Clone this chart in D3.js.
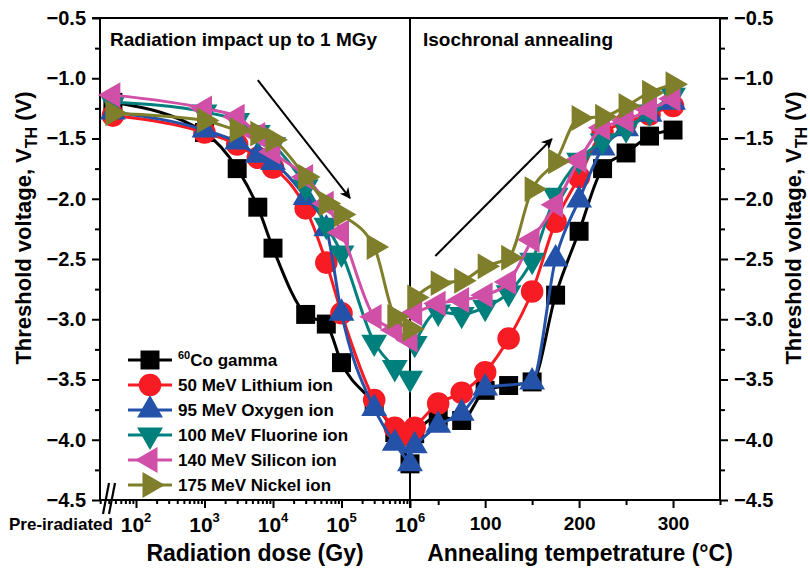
<!DOCTYPE html>
<html><head><meta charset="utf-8">
<script src="https://cdn.jsdelivr.net/npm/d3@7"></script>
<style>body{margin:0;background:#fff}svg{display:block}</style>
</head><body>
<svg id="c" width="810" height="573"></svg>
<script>
// ---------------- data ----------------
const PRE_DOSE = 46; // plotting position of the "Pre-iradiated" category on the log axis
const irrDoses = [PRE_DOSE, 1e3, 3e3, 6e3, 1e4, 3e4, 6e4, 1e5, 3e5, 6e5, 1e6];
const annTemps = [25, 50, 75, 100, 125, 150, 175, 200, 225, 250, 275, 300];

const seriesNames = ["Co gamma", "50 MeV Lithium ion", "95 MeV Oxygen ion", "100 MeV Fluorine ion", "140 MeV Silicon ion", "175 MeV Nickel ion"];
const seriesColors = ["#000000", "#f71c24", "#2452a8", "#00807c", "#cf50a6", "#7f7f2b"];
const seriesSymbols = ["square", "circle", "up", "down", "left", "right"];

const irrCo = [-1.20, -1.45, -1.75, -2.07, -2.41, -2.96, -3.04, -3.36, -3.70, -3.94, -4.20];
const irrLi = [-1.31, -1.45, -1.55, -1.66, -1.74, -2.08, -2.53, -2.95, -3.67, -3.90, -3.97];
const irrO  = [-1.28, -1.43, -1.53, -1.64, -1.70, -1.99, -2.25, -2.95, -3.74, -4.03, -4.20];
const irrF  = [-1.20, -1.28, -1.35, -1.45, -1.55, -1.90, -2.22, -2.45, -3.19, -3.40, -3.49];
const irrSi = [-1.14, -1.25, -1.32, -1.47, -1.61, -1.82, -2.04, -2.28, -2.98, -3.09, -3.17];
const irrNi = [-1.29, -1.35, -1.43, -1.46, -1.51, -1.82, -2.04, -2.13, -2.40, -2.98, -3.08];

const annCo = [-3.95, -3.81, -3.84, -3.59, -3.55, -3.52, -2.80, -2.27, -1.75, -1.62, -1.48, -1.43];
const annLi = [-3.90, -3.70, -3.61, -3.44, -3.16, -2.77, -2.19, -1.82, -1.45, -1.37, -1.30, -1.23];
const annO  = [-4.05, -3.88, -3.78, -3.57, null,  -3.52, -2.50, -2.01, -1.58, -1.42, -1.30, -1.20];
const annF  = [-3.20, -2.94, -2.96, -2.90, -2.78, -2.51, -1.97, -1.68, -1.52, -1.42, -1.28, -1.14];
const annSi = [-2.95, -2.87, -2.84, -2.80, -2.69, -2.34, -2.05, -1.68, -1.41, -1.35, -1.26, -1.17];
const annNi = [-2.82, -2.70, -2.68, -2.56, -2.49, -1.92, -1.69, -1.33, -1.32, -1.23, -1.12, -1.05];

const yTicks = [-0.5, -1.0, -1.5, -2.0, -2.5, -3.0, -3.5, -4.0, -4.5];
const doseTicks = [1e2, 1e3, 1e4, 1e5, 1e6];
const tempTicks = [100, 200, 300];
const tempMinorTicks = [50, 150, 250, 350];

const irrSeries = [irrCo, irrLi, irrO, irrF, irrSi, irrNi];
const annSeries = [annCo, annLi, annO, annF, annSi, annNi];

// ---------------- layout ----------------
const svg = d3.select("#c");
const FONT = "'Liberation Sans', Arial, Helvetica, sans-serif";
const L = 100, M = 410, R = 720, T = 18, B = 500;

const y = d3.scaleLinear().domain([-4.5, -0.5]).range([B, T]);
const xLog = d3.scaleLog().domain([Math.pow(10, 2 - 36 / 68.5), 1e6]).range([L, M]);
const xLin = d3.scaleLinear().domain([20, 350]).range([M, R]);

const g = svg.append("g");

// ---------------- axes ----------------
function fmtY(v) { return d3.format(".1f")(v).replace("-", "\u2212"); }

const yMinor = d3.range(-4.25, -0.5, 0.5);
const axL = g.append("g").attr("transform", `translate(${L},0)`)
  .call(d3.axisLeft(y).tickValues(yTicks).tickSize(8).tickPadding(6).tickFormat(fmtY));
axL.append("g").call(d3.axisLeft(y).tickValues(yMinor).tickSize(5).tickFormat(""));
const axR = g.append("g").attr("transform", `translate(${R},0)`)
  .call(d3.axisRight(y).tickValues(yTicks).tickSize(8).tickPadding(6).tickFormat(fmtY));
axR.append("g").call(d3.axisRight(y).tickValues(yMinor).tickSize(5).tickFormat(""));

const logMinor = [];
for (let e = 1; e <= 5; e++) for (let m = 2; m <= 9; m++) { const v = m * Math.pow(10, e); if (v >= xLog.domain()[0]) logMinor.push(v); }
const axBL = g.append("g").attr("transform", `translate(0,${B})`)
  .call(d3.axisBottom(xLog).tickValues(doseTicks).tickSize(8).tickFormat(""));
axBL.append("g").call(d3.axisBottom(xLog).tickValues(logMinor).tickSize(4).tickFormat(""));
doseTicks.forEach(d => {
  const t = g.append("text").attr("x", xLog(d)).attr("y", 532).attr("text-anchor", "middle")
    .attr("font-family", FONT).attr("font-weight", "bold").attr("font-size", 21);
  t.append("tspan").text("10");
  t.append("tspan").attr("dy", -10).attr("font-size", 13).text(Math.round(Math.log10(d)));
});

const axBR = g.append("g").attr("transform", `translate(0,${B})`)
  .call(d3.axisBottom(xLin).tickValues(tempTicks).tickSize(8).tickPadding(9).tickFormat(d3.format("d")));
axBR.append("g").call(d3.axisBottom(xLin).tickValues(tempMinorTicks).tickSize(5).tickFormat(""));

[axL, axR, axBL, axBR].forEach(a => {
  a.selectAll("line").attr("stroke", "#000").attr("stroke-width", 2);
  a.selectAll("text").attr("font-family", FONT).attr("font-weight", "bold").attr("font-size", 20).attr("fill", "#000");
  a.selectAll("path.domain").remove();
});
axBR.selectAll("text").attr("font-size", 19);

// frame lines
const frame = (x1, y1, x2, y2) => g.append("line").attr("x1", x1).attr("y1", y1).attr("x2", x2).attr("y2", y2)
  .attr("stroke", "#000").attr("stroke-width", 2);
frame(L, T, L, B);
frame(R, T, R, B);
frame(M, T, M, B + 8);
frame(L - 8, T, R + 8, T);
frame(L, B, R, B);

// axis break marks
[0, 6].forEach(o => {
  g.append("line").attr("x1", 103 + o).attr("y1", 514).attr("x2", 109 + o).attr("y2", 483)
    .attr("stroke", "#000").attr("stroke-width", 2.2);
});
g.append("text").attr("x", 9).attr("y", 530).attr("font-family", FONT).attr("font-weight", "bold")
  .attr("font-size", 17).text("Pre-iradiated");

// axis titles
g.append("text").attr("x", 255).attr("y", 561).attr("text-anchor", "middle").attr("font-family", FONT)
  .attr("font-weight", "bold").attr("font-size", 23).text("Radiation dose (Gy)");
g.append("text").attr("x", 580).attr("y", 561).attr("text-anchor", "middle").attr("font-family", FONT)
  .attr("font-weight", "bold").attr("font-size", 23).text("Annealing tempetrature (\u00B0C)");

function yTitle(x) {
  const t = g.append("text").attr("transform", `translate(${x},228) rotate(-90)`).attr("text-anchor", "middle")
    .attr("font-family", FONT).attr("font-weight", "bold").attr("font-size", 22);
  t.append("tspan").text("Threshold voltage, V");
  t.append("tspan").attr("dy", 6).attr("font-size", 16).text("TH");
  t.append("tspan").attr("dy", -6).text(" (V)");
}
yTitle(31);
yTitle(801);

// panel titles
g.append("text").attr("x", 110).attr("y", 46).attr("font-family", FONT).attr("font-weight", "bold")
  .attr("font-size", 19).text("Radiation impact up to 1 MGy");
g.append("text").attr("x", 423).attr("y", 46).attr("font-family", FONT).attr("font-weight", "bold")
  .attr("font-size", 19).text("Isochronal annealing");

// arrows
svg.append("defs").append("marker").attr("id", "ah").attr("viewBox", "0 0 10 10").attr("refX", 9).attr("refY", 5)
  .attr("markerWidth", 5.5).attr("markerHeight", 5.5).attr("markerUnits", "strokeWidth").attr("orient", "auto")
  .append("path").attr("d", "M0,0 L10,5 L0,10 L3,5 Z").attr("fill", "#000");
g.append("line").attr("x1", xLog(6000)).attr("y1", y(-1.015)).attr("x2", xLog(1.33e5)).attr("y2", y(-1.994))
  .attr("stroke", "#000").attr("stroke-width", 2).attr("marker-end", "url(#ah)");
g.append("line").attr("x1", xLin(47)).attr("y1", y(-2.475)).attr("x2", xLin(171)).attr("y2", y(-1.504))
  .attr("stroke", "#000").attr("stroke-width", 2).attr("marker-end", "url(#ah)");

// ---------------- marks ----------------
function symPath(kind) {
  if (kind === "square") return d3.symbol(d3.symbolSquare, 360)();
  if (kind === "circle") return d3.symbol(d3.symbolCircle, 400)();
  return d3.symbol(d3.symbolTriangle, 290)();
}
function symRot(kind) {
  return { up: 0, down: 180, left: -90, right: 90 }[kind] || 0;
}
const line = d3.line().curve(d3.curveMonotoneX);

seriesNames.forEach((name, i) => {
  const col = seriesColors[i];
  const pIrr = irrDoses.map((d, k) => [xLog(d), irrSeries[i][k] == null ? null : y(irrSeries[i][k])]);
  const pAnn = annTemps.map((t, k) => [xLin(t), annSeries[i][k] == null ? null : y(annSeries[i][k])]);
  [pIrr, pAnn].forEach(pts => {
    const ok = pts.filter(p => p[1] != null);
    g.append("path").attr("d", line(ok)).attr("fill", "none").attr("stroke", col).attr("stroke-width", 3);
    g.selectAll(null).data(ok).enter().append("path")
      .attr("d", symPath(seriesSymbols[i]))
      .attr("transform", p => `translate(${p[0]},${p[1]}) rotate(${symRot(seriesSymbols[i])})`)
      .attr("fill", col);
  });
});

// ---------------- legend ----------------
const legY = [360, 385, 410, 435, 460, 485];
seriesNames.forEach((name, i) => {
  const col = seriesColors[i];
  const yy = legY[i];
  g.append("line").attr("x1", 128).attr("x2", 172).attr("y1", yy).attr("y2", yy).attr("stroke", col).attr("stroke-width", 3);
  g.append("path").attr("d", symPath(seriesSymbols[i]))
    .attr("transform", `translate(150,${yy}) rotate(${symRot(seriesSymbols[i])})`).attr("fill", col);
  const t = g.append("text").attr("x", 178).attr("y", yy + 6).attr("font-family", FONT).attr("font-weight", "bold").attr("font-size", 17);
  if (i === 0) {
    t.append("tspan").attr("font-size", 11).attr("dy", -7).text("60");
    t.append("tspan").attr("dy", 7).text(name);
  } else {
    t.text(name);
  }
});
</script>
</body></html>
